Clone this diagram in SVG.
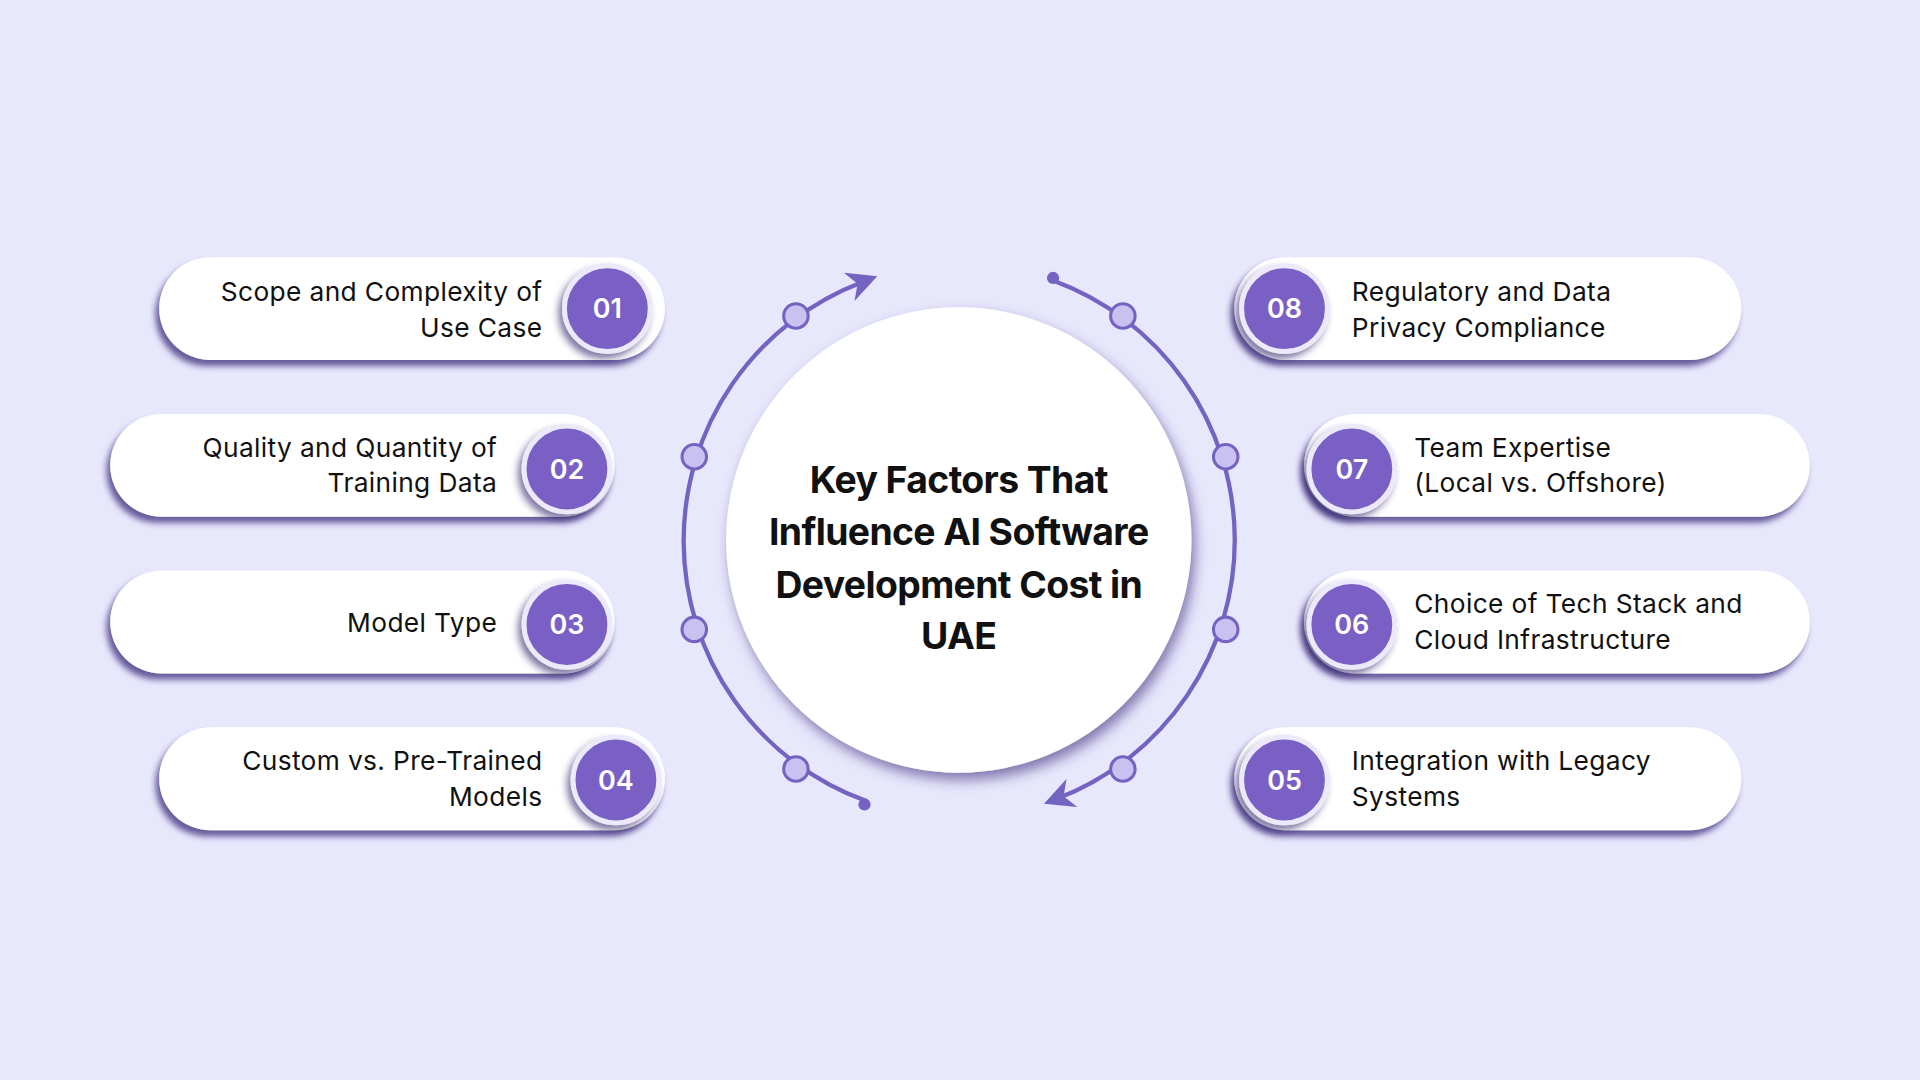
<svg xmlns="http://www.w3.org/2000/svg" width="1920" height="1080" viewBox="0 0 1920 1080">
<defs>
<style>
.pill{fill:#ffffff;filter:url(#ps)}
.num{fill:#7a5fc4;stroke:#ece9fb;stroke-width:4;filter:url(#ns)}
.nt{font-family:Inter,"Noto Sans",sans-serif;font-weight:600;font-size:22px;fill:#ffffff;text-anchor:middle}
.lt{font-family:Inter,"Noto Sans",sans-serif;font-size:21.5px;fill:#111111;letter-spacing:0.3px}
.r{text-anchor:end}
.title{font-family:Inter,"Noto Sans",sans-serif;font-weight:700;font-size:30.5px;fill:#111111;text-anchor:middle;letter-spacing:-0.5px}
.arc{fill:none;stroke:#7563c2;stroke-width:3.5}
.dot{fill:#c9c2f0;stroke:#7563c2;stroke-width:2.5}
.end{fill:#7563c2}
</style>
<filter id="ps" x="-10%" y="-30%" width="120%" height="170%"><feDropShadow dx="-3" dy="5" stdDeviation="2.5" flood-color="#3a2c7a" flood-opacity="0.75"/></filter>
<filter id="ns" x="-40%" y="-40%" width="180%" height="180%"><feDropShadow dx="-3" dy="4" stdDeviation="3" flood-color="#2d2266" flood-opacity="0.6"/></filter>
<filter id="cs" x="-20%" y="-20%" width="140%" height="140%"><feDropShadow dx="3" dy="6" stdDeviation="5" flood-color="#3a2c7a" flood-opacity="0.6"/></filter>
<marker id="ah" viewBox="0 0 10 10" refX="5" refY="5" markerWidth="7" markerHeight="7" orient="auto" markerUnits="strokeWidth"><path d="M0,0 L10,5 L0,10 L3,5 Z" fill="#7563c2"/></marker>
</defs>
<rect width="1920" height="1080" fill="#e8e8fd"/>
<g transform="scale(1.22449)">
<g id="connectors">
<path class="arc" d="M707,654 A226,226 0 0 1 705,230" marker-end="url(#ah)"/>
<path class="arc" d="M860,229 A226,226 0 0 1 864,652" marker-end="url(#ah)"/>
<circle class="dot" cx="650" cy="258" r="10"/><circle class="dot" cx="567" cy="373" r="10"/>
<circle class="dot" cx="567" cy="514" r="10"/><circle class="dot" cx="650" cy="628" r="10"/>
<circle class="dot" cx="917" cy="258" r="10"/><circle class="dot" cx="1001" cy="373" r="10"/>
<circle class="dot" cx="1001" cy="514" r="10"/><circle class="dot" cx="917" cy="628" r="10"/>
<circle class="end" cx="706" cy="657" r="5"/><circle class="end" cx="860" cy="227" r="5"/>
</g>
<g id="center">
<circle cx="783" cy="441" r="190" fill="#ffffff" filter="url(#cs)"/>
<text class="title" x="783" y="403">Key Factors That</text>
<text class="title" x="783" y="445">Influence AI Software</text>
<text class="title" x="783" y="488">Development Cost in</text>
<text class="title" x="783" y="530">UAE</text>
</g>
<g id="n01"><rect class="pill" x="130" y="210" width="413" height="84" rx="42"/><circle class="num" cx="496" cy="252" r="35"/><text class="nt" x="496" y="260">01</text>
<text class="lt r" x="443" y="246">Scope and Complexity of</text><text class="lt r" x="443" y="275">Use Case</text></g>
<g id="n02"><rect class="pill" x="90" y="338" width="412" height="84" rx="42"/><circle class="num" cx="463" cy="383" r="35"/><text class="nt" x="463" y="391">02</text>
<text class="lt r" x="406" y="373">Quality and Quantity of</text><text class="lt r" x="406" y="402">Training Data</text></g>
<g id="n03"><rect class="pill" x="90" y="466" width="412" height="84" rx="42"/><circle class="num" cx="463" cy="510" r="35"/><text class="nt" x="463" y="518">03</text>
<text class="lt r" x="406" y="516">Model Type</text></g>
<g id="n04"><rect class="pill" x="130" y="594" width="413" height="84" rx="42"/><circle class="num" cx="503" cy="637" r="35"/><text class="nt" x="503" y="645">04</text>
<text class="lt r" x="443" y="629">Custom vs. Pre-Trained</text><text class="lt r" x="443" y="658">Models</text></g>
<g id="n08"><rect class="pill" x="1008" y="210" width="414" height="84" rx="42"/><circle class="num" cx="1049" cy="252" r="35"/><text class="nt" x="1049" y="260">08</text>
<text class="lt" x="1104" y="246">Regulatory and Data</text><text class="lt" x="1104" y="275">Privacy Compliance</text></g>
<g id="n07"><rect class="pill" x="1065" y="338" width="413" height="84" rx="42"/><circle class="num" cx="1104" cy="383" r="35"/><text class="nt" x="1104" y="391">07</text>
<text class="lt" x="1155" y="373">Team Expertise</text><text class="lt" x="1155" y="402">(Local vs. Offshore)</text></g>
<g id="n06"><rect class="pill" x="1065" y="466" width="413" height="84" rx="42"/><circle class="num" cx="1104" cy="510" r="35"/><text class="nt" x="1104" y="518">06</text>
<text class="lt" x="1155" y="501">Choice of Tech Stack and</text><text class="lt" x="1155" y="530">Cloud Infrastructure</text></g>
<g id="n05"><rect class="pill" x="1008" y="594" width="414" height="84" rx="42"/><circle class="num" cx="1049" cy="637" r="35"/><text class="nt" x="1049" y="645">05</text>
<text class="lt" x="1104" y="629">Integration with Legacy</text><text class="lt" x="1104" y="658">Systems</text></g>
</g>
</svg>
